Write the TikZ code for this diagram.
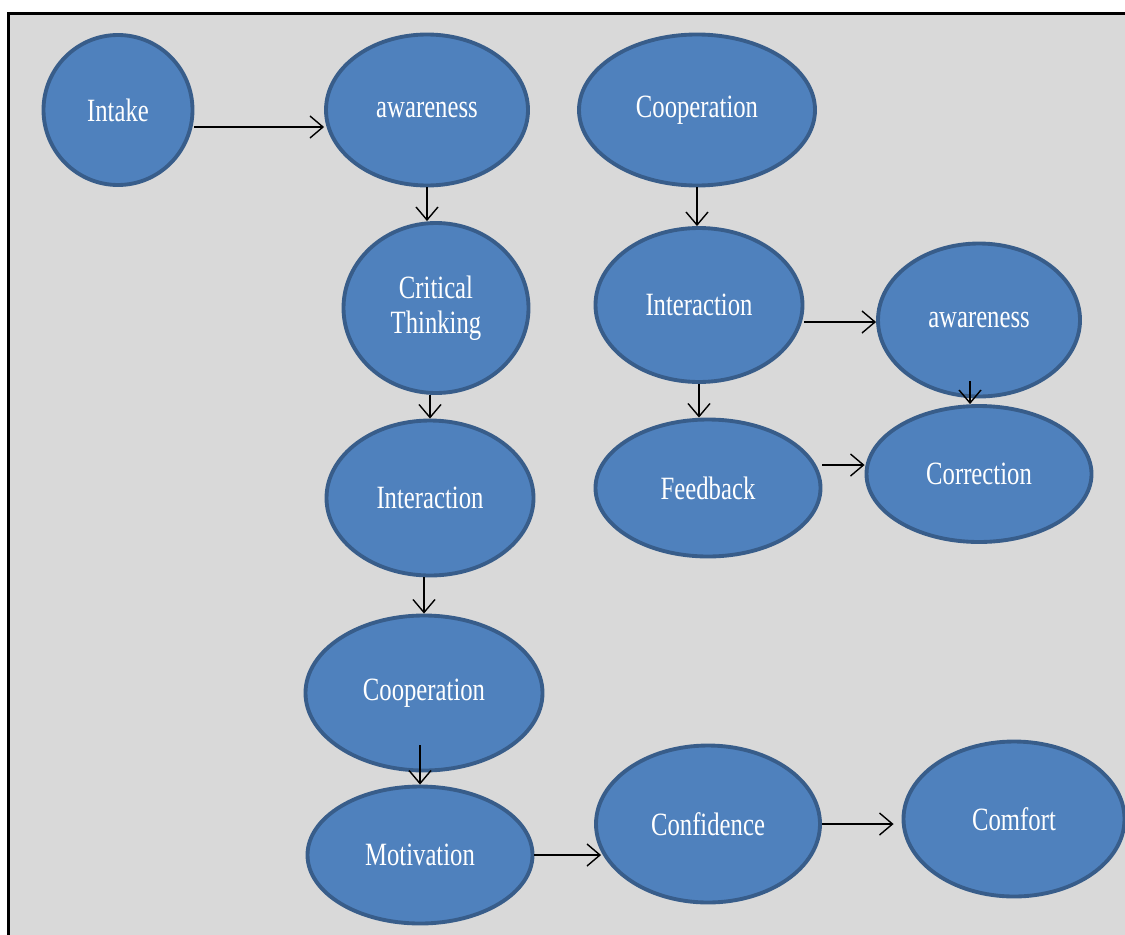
\documentclass[tikz,border=0pt]{standalone}
\usepackage{fontspec}
\newfontfamily\bubblefont[FakeStretch=0.76]{Liberation Serif}
\usetikzlibrary{arrows.meta,shapes.geometric}
\definecolor{bubble}{HTML}{4F81BD}
\definecolor{rim}{HTML}{385D8A}
\definecolor{panel}{HTML}{D9D9D9}

\tikzset{
  idea/.style={ellipse,draw=rim,fill=bubble,line width=2.2pt,inner sep=0pt,text=white,align=center},
  link/.style={-{Straight Barb[length=2.6mm,width=4.4mm]},line width=0.8pt,black}
}

\begin{document}
\begin{tikzpicture}[font=\bubblefont\fontsize{18.5}{20}\selectfont]
  \clip (0,0) rectangle (22.5,-18.68);
  \fill[white] (0,0) rectangle (22.5,-18.68);
  \draw[fill=panel,line width=1.6pt] (0.17,-0.27) rectangle (23,-19.2);

  \node[idea,minimum width=2.98cm,minimum height=3.00cm] (intake) at (2.36,-2.20) {Intake};
  \node[idea,minimum width=4.04cm,minimum height=3.02cm] (aware1) at (8.54,-2.20) {awareness};
  \node[idea,minimum width=4.72cm,minimum height=3.02cm] (coop1) at (13.94,-2.20) {Cooperation};
  \node[idea,minimum width=3.70cm,minimum height=3.40cm] (critical) at (8.72,-6.16) {Critical\\Thinking};
  \node[idea,minimum width=4.14cm,minimum height=3.08cm] (inter1) at (13.98,-6.10) {Interaction};
  \node[idea,minimum width=4.04cm,minimum height=3.06cm] (aware2) at (19.58,-6.40) {awareness};
  \node[idea,minimum width=4.14cm,minimum height=3.10cm] (inter2) at (8.60,-9.96) {Interaction};
  \node[idea,minimum width=4.50cm,minimum height=2.74cm] (feedback) at (14.16,-9.76) {Feedback};
  \node[idea,minimum width=4.50cm,minimum height=2.72cm] (correction) at (19.58,-9.48) {Correction};
  \node[idea,minimum width=4.74cm,minimum height=3.10cm] (coop2) at (8.48,-13.86) {Cooperation};
  \node[idea,minimum width=4.50cm,minimum height=2.74cm] (motivation) at (8.40,-17.10) {Motivation};
  \node[idea,minimum width=4.48cm,minimum height=3.14cm] (confidence) at (14.16,-16.48) {Confidence};
  \node[idea,minimum width=4.42cm,minimum height=3.10cm] (comfort) at (20.28,-16.38) {Comfort};

  \draw[link] ([yshift=-0.34cm]intake.east) -- ([yshift=-0.34cm]intake.east -| aware1.west);
  \draw[link] (aware1.south) -- (aware1.south |- critical.north);
  \draw[link] (critical.south -| inter2.north) -- (inter2.north);
  \draw[link] (inter2.south -| coop2.north) -- (coop2.north);
  \draw[link] ([yshift=0.54cm]coop2.south -| motivation.north) -- (motivation.north);
  \draw[link] (motivation.east) -- ([xshift=0.14cm]motivation.east -| confidence.west);
  \draw[link] (confidence.east) -- ([xshift=-0.16cm]confidence.east -| comfort.west);

  \draw[link] (coop1.south) -- (coop1.south |- inter1.north);
  \draw[link] ([yshift=-0.34cm]inter1.east) -- ([yshift=-0.34cm]inter1.east -| aware2.west);
  \draw[link] (inter1.south) -- (inter1.south |- feedback.north);
  \draw[link] ([xshift=-0.18cm,yshift=0.34cm]aware2.south) -- ([xshift=-0.18cm]aware2.south |- correction.north);
  \draw[link] ([yshift=0.46cm]feedback.east) -- ([yshift=0.46cm]feedback.east -| correction.west);
\end{tikzpicture}
\end{document}
